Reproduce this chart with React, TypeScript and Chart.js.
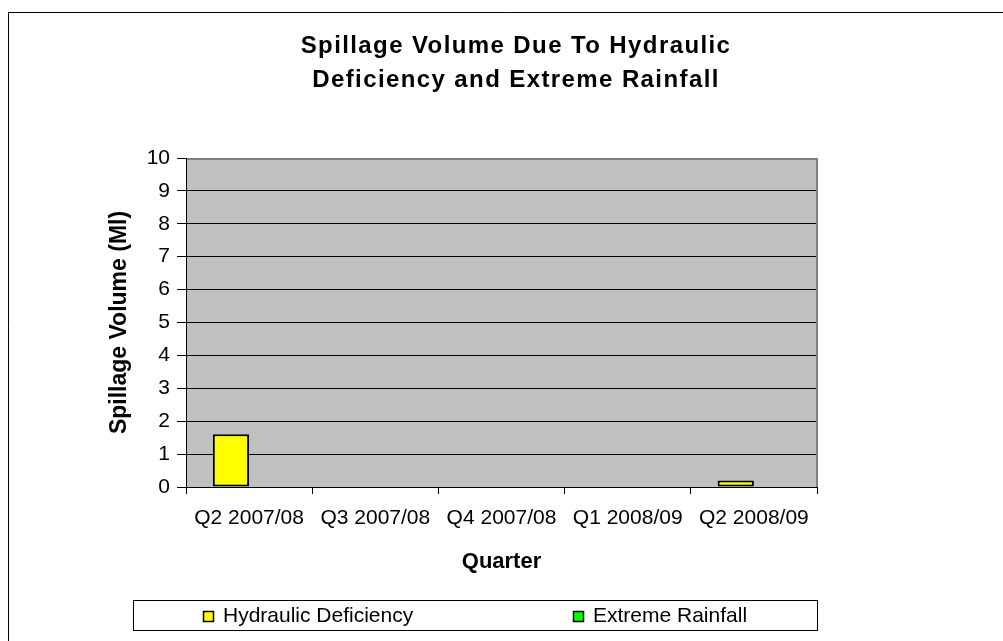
import React, { useEffect, useRef } from "react";
import { Chart, registerables } from "chart.js";

Chart.register(...registerables);

// Chart content
const TITLE_LINES = ["Spillage Volume Due To Hydraulic", "Deficiency and Extreme Rainfall"];
const CATEGORIES = ["Q2 2007/08", "Q3 2007/08", "Q4 2007/08", "Q1 2008/09", "Q2 2008/09"];
const SERIES_NAMES = ["Hydraulic Deficiency", "Extreme Rainfall"];
const HYDRAULIC_DEFICIENCY = [1.6, 0, 0, 0, 0.2];
const EXTREME_RAINFALL = [0, 0, 0, 0, 0];
const SERIES_COLORS = ["#FFFF00", "#00FF00"];
const Y_MIN = 0;
const Y_MAX = 10;
const Y_STEP = 1;
const X_TITLE = "Quarter";
const Y_TITLE = "Spillage Volume (Ml)";

const FONT = "Arial, 'Liberation Sans', sans-serif";
const W = 1003;
const H = 641;

// Plot frame, outer border, title and boxed legend
const decorations = {
  id: "decorations",
  beforeDraw(chart: any) {
    const { ctx, chartArea: ca } = chart;
    ctx.save();
    ctx.fillStyle = "#ffffff";
    ctx.fillRect(0, 0, chart.width, chart.height);
    ctx.fillStyle = "#C0C0C0";
    ctx.fillRect(ca.left, ca.top, ca.right - ca.left, ca.bottom - ca.top);
    ctx.restore();
  },
  afterDraw(chart: any) {
    const { ctx, chartArea: ca } = chart;
    ctx.save();

    // gray frame on the top and right of the plot area
    ctx.fillStyle = "#808080";
    ctx.fillRect(ca.left + 1, ca.top, ca.right - ca.left, 2);
    ctx.fillRect(ca.right - 1, ca.top, 2, ca.bottom - ca.top);

    // outer chart border (top and left edges)
    ctx.strokeStyle = "#000";
    ctx.lineWidth = 1;
    ctx.beginPath();
    ctx.moveTo(8.5, H);
    ctx.lineTo(8.5, 12.5);
    ctx.lineTo(W, 12.5);
    ctx.stroke();

    // title
    ctx.fillStyle = "#000";
    ctx.font = `bold 24px ${FONT}`;
    (ctx as any).letterSpacing = "1.4px";
    ctx.textAlign = "center";
    ctx.textBaseline = "alphabetic";
    ctx.fillText(TITLE_LINES[0], 516, 53);
    ctx.fillText(TITLE_LINES[1], 516, 87);
    (ctx as any).letterSpacing = "0px";

    // legend box
    const lx = 133, ly = 600, lw = 684, lh = 30;
    ctx.strokeStyle = "#000";
    ctx.strokeRect(lx + 0.5, ly + 0.5, lw, lh);

    ctx.font = `21px ${FONT}`;
    ctx.textAlign = "left";
    ctx.textBaseline = "middle";
    const box = 10;
    const boxGap = 10;
    const itemGap = 160;
    const datasets = chart.data.datasets;
    const widths = datasets.map((d: any) => box + boxGap + ctx.measureText(d.label).width);
    const total = widths.reduce((a: number, b: number) => a + b, 0) + itemGap * (datasets.length - 1);
    let x = lx + lw / 2 - total / 2;
    const cy = ly + lh / 2 + 1;
    datasets.forEach((d: any, i: number) => {
      const bx = Math.round(x);
      const by = Math.round(cy - box / 2);
      ctx.fillStyle = d.backgroundColor;
      ctx.fillRect(bx, by, box, box);
      ctx.strokeStyle = "#000";
      ctx.lineWidth = 1.5;
      ctx.strokeRect(bx + 0.5, by + 0.5, box, box);
      ctx.fillStyle = "#000";
      ctx.fillText(d.label, bx + box + boxGap, cy);
      x += widths[i] + itemGap;
    });

    ctx.restore();
  },
};

export default function App() {
  const canvasRef = useRef<HTMLCanvasElement | null>(null);

  useEffect(() => {
    const canvas = canvasRef.current;
    if (!canvas) return;
    Chart.defaults.font.family = FONT;

    const barBorder = (c: any) => (c.type === "data" && c.raw === 0 ? 0 : 2);

    const chart = new Chart(canvas, {
      type: "bar",
      data: {
        labels: CATEGORIES,
        datasets: [
          {
            label: SERIES_NAMES[0],
            data: HYDRAULIC_DEFICIENCY,
            backgroundColor: SERIES_COLORS[0],
            borderColor: "#000",
            borderWidth: barBorder,
            borderSkipped: false,
          },
          {
            label: SERIES_NAMES[1],
            data: EXTREME_RAINFALL,
            backgroundColor: SERIES_COLORS[1],
            borderColor: "#000",
            borderWidth: barBorder,
            borderSkipped: false,
          },
        ],
      },
      options: {
        responsive: false,
        animation: false,
        devicePixelRatio: 1,
        layout: { padding: { top: 158, left: 0, right: 186, bottom: 0 } },
        datasets: {
          bar: { categoryPercentage: 0.575, barPercentage: 1 },
        },
        plugins: {
          legend: { display: false },
          title: { display: false },
          tooltip: { enabled: false },
        },
        scales: {
          x: {
            offset: true,
            grid: {
              offset: true,
              drawOnChartArea: false,
              drawTicks: true,
              tickLength: 7,
              color: "#000",
            },
            border: { color: "#000", width: 1 },
            ticks: {
              color: "#000",
              font: { size: 21, family: FONT },
              padding: 12,
              maxRotation: 0,
              autoSkip: false,
            },
            title: {
              display: true,
              text: X_TITLE,
              color: "#000",
              font: { size: 22, weight: "bold", family: FONT },
              padding: { top: 0, bottom: 66 },
            },
            afterFit: (s: any) => {
              s.height = 154;
            },
          },
          y: {
            min: Y_MIN,
            max: Y_MAX,
            grid: { color: "#000", tickLength: 9, drawTicks: true },
            border: { color: "#000", width: 1 },
            ticks: {
              stepSize: Y_STEP,
              color: "#000",
              font: { size: 21, family: FONT },
              padding: 7,
            },
            title: {
              display: true,
              text: Y_TITLE,
              color: "#000",
              font: { size: 23, weight: "bold", family: FONT },
              padding: { top: 106, bottom: 0 },
            },
            afterFit: (s: any) => {
              s.width = 186;
            },
          },
        },
      },
      plugins: [decorations],
    } as any);

    return () => chart.destroy();
  }, []);

  return (
    <div style={{ position: "fixed", left: 0, top: 0, width: W, height: H, background: "#fff" }}>
      <canvas ref={canvasRef} width={W} height={H} style={{ display: "block", width: W, height: H }} />
    </div>
  );
}
